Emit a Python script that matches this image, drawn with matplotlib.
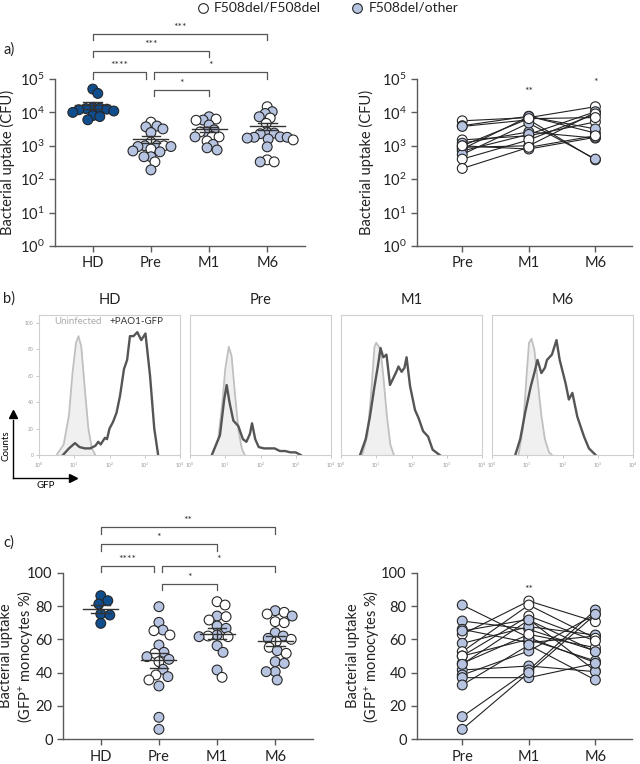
import numpy as np
import matplotlib
matplotlib.use("Agg")
import matplotlib.pyplot as plt
from matplotlib.lines import Line2D
from matplotlib.ticker import FixedLocator, NullLocator

plt.rcParams["font.family"] = ["Lato", "DejaVu Sans"]
plt.rcParams["mathtext.default"] = "regular"

HD_BLUE = "#0f4d8c"
LIGHT = "#b7c4e1"
EDGE = "#262626"
AXIS = "#5a5a5a"

GROUPS = ["HD", "Pre", "M1", "M6"]
TIMES = ["Pre", "M1", "M6"]

# a) bacterial uptake, CFU (open = F508del/F508del, else F508del/other)
cfu_hd = [50000, 37000, 14000, 13500, 13000, 12500, 12000, 11000, 10000, 8000, 7500, 6000]
cfu_pre = [5100, 3900, 3700, 3200, 2500, 1300, 1000, 1000, 1000, 950, 950, 800, 700, 660, 470, 470, 330, 190]
cfu_pre_open = [1, 0, 0, 0, 0, 1, 0, 0, 1, 0, 0, 1, 0, 0, 0, 0, 1, 0]
cfu_m1 = [7400, 6300, 5900, 5800, 4200, 3000, 2600, 2600, 1900, 1850, 1850, 1400, 1100, 870, 750]
cfu_m1_open = [0, 1, 0, 1, 0, 0, 0, 1, 1, 1, 0, 1, 0, 0, 0]
cfu_m6 = [14800, 10500, 9300, 7400, 6800, 4700, 2500, 2400, 2300, 1850, 1800, 1800, 1700, 1600,
          1500, 930, 380, 330, 330]
cfu_m6_open = [1, 0, 0, 0, 1, 1, 0, 0, 0, 0, 0, 0, 0, 0, 1, 0, 1, 1, 0]

# a) paired patients
pair_cfu_pre = [5600, 4000, 3800, 1500, 1200, 1000, 900, 800, 700, 550, 400, 210, 1000]
pair_cfu_m1 = [7000, 7700, 6000, 2000, 2600, 800, 1000, 7500, 2200, 4800, 1500, 900, 6500]
pair_cfu_m6 = [14800, 2400, 380, 5200, 1700, 1800, 10000, 3200, 10500, 400, 9000, 2000, 7000]
pair_cfu_open = [1, 0, 0, 1, 0, 0, 0, 0, 0, 0, 1, 1, 1]

# b) flow histograms: (log10 GFP, counts)
hist_uninf = {
    "HD": ([0.5, 0.7, 0.85, 0.95, 1.05, 1.12, 1.2, 1.3, 1.4, 1.5, 1.6],
           [0, 8, 30, 62, 85, 90, 82, 50, 20, 5, 0]),
    "Pre": ([0.62, 0.8, 0.92, 1.0, 1.1, 1.18, 1.28, 1.38, 1.47, 1.55],
            [0, 12, 40, 65, 82, 75, 45, 18, 5, 0]),
    "M1": ([0.6, 0.75, 0.85, 0.95, 1.0, 1.05, 1.12, 1.2, 1.3, 1.4, 1.5],
           [0, 15, 45, 82, 85, 83, 80, 60, 30, 8, 0]),
    "M6": ([0.75, 0.88, 0.98, 1.05, 1.12, 1.2, 1.3, 1.4, 1.5, 1.62, 1.7],
           [0, 20, 60, 85, 88, 80, 55, 30, 12, 2, 0]),
}
hist_inf = {
    "HD": ([0.68, 0.85, 1.02, 1.15, 1.3, 1.45, 1.6, 1.68, 1.75, 1.87, 1.93, 2.0, 2.1, 2.2, 2.3,
            2.41, 2.5, 2.58, 2.68, 2.79, 2.9, 3.02, 3.15, 3.27, 3.38],
           [0, 5, 9, 6, 5, 5, 7, 10, 8, 13, 12, 20, 25, 32, 45, 65, 72, 90, 90, 93, 87, 92, 60, 20, 0]),
    "Pre": ([0.62, 0.85, 0.97, 1.04, 1.12, 1.23, 1.37, 1.5, 1.6, 1.7, 1.76, 1.85, 1.95, 2.1, 2.25,
             2.4, 2.55, 2.7, 2.85, 3.0, 3.14],
            [0, 15, 42, 53, 40, 26, 22, 12, 10, 16, 24, 12, 6, 5, 5, 5, 3, 3, 2, 2, 0]),
    "M1": ([0.54, 0.7, 0.82, 0.95, 1.05, 1.12, 1.2, 1.29, 1.39, 1.48, 1.57, 1.63, 1.72, 1.8, 1.86,
            1.96, 2.1, 2.2, 2.33, 2.47, 2.6, 2.8],
           [0, 12, 29, 52, 68, 81, 74, 76, 53, 58, 63, 67, 63, 66, 74, 52, 34, 28, 18, 14, 4, 0]),
    "M6": ([0.66, 0.8, 0.94, 1.1, 1.2, 1.29, 1.4, 1.5, 1.56, 1.7, 1.83, 1.92, 2.09, 2.18, 2.28,
            2.42, 2.61, 2.75, 2.94],
           [0, 12, 32, 52, 62, 72, 62, 66, 72, 76, 87, 72, 54, 42, 47, 29, 14, 5, 0]),
}

# c) GFP+ monocytes, %
gfp_hd = [86.2, 83.2, 81.2, 75.2, 74.6, 69.6]
gfp_pre = [79.6, 70.2, 65.6, 65.2, 62.6, 56.6, 52.2, 51.6, 49.6, 48, 46.6, 42, 38.6, 37.6, 35.6,
           32, 13.2, 6]
gfp_pre_open = [0, 0, 0, 1, 1, 0, 0, 1, 0, 0, 1, 0, 1, 0, 1, 0, 0, 0]
gfp_m1 = [82.6, 80.6, 74, 73.6, 71.6, 68, 66.6, 62.6, 62, 61.6, 61.6, 56.2, 52.2, 41.6, 37.2]
gfp_m1_open = [1, 1, 0, 1, 1, 0, 0, 0, 1, 1, 0, 0, 0, 0, 1]
gfp_m6 = [77.2, 76.2, 75.2, 74, 70.6, 70, 64, 62, 60.6, 60, 58.6, 55.2, 53.2, 51.6, 46.6, 45.6,
          40.6, 40.6, 35.6]
gfp_m6_open = [0, 1, 1, 0, 1, 1, 0, 0, 0, 1, 1, 1, 0, 1, 0, 0, 0, 0, 0]

# c) paired patients
pair_gfp_pre = [80.6, 71, 66, 63, 65, 57.6, 52.6, 50, 45.6, 41.6, 38.6, 37, 32.6, 13.6, 6, 50, 45]
pair_gfp_m1 = [61, 66, 58, 83, 72, 67.6, 80.6, 60, 63, 44, 53, 37, 56.6, 41.6, 40, 74, 71.6]
pair_gfp_m6 = [46, 53, 62, 70.6, 41, 62.6, 60.6, 47, 55, 40.6, 75, 45.6, 35.6, 77.6, 75, 59, 52.6]
pair_gfp_open = [0, 0, 0, 1, 0, 0, 1, 0, 1, 0, 0, 0, 0, 0, 0, 1, 0]

# significance brackets: (start, end, height in axes fraction, label)
brackets = [(0, 3, 1.272, "***"), (0, 2, 1.17, "***"), (0, 0.92, 1.04, "****"),
            (1.05, 3, 1.04, "*"), (1.05, 2, 0.935, "*")]
brackets_c = [(0, 3, 1.272, "**"), (0, 2, 1.17, "*"), (0, 0.92, 1.04, "****"),
              (1.05, 3, 1.04, "*"), (1.05, 2, 0.935, "*")]

fig = plt.figure(figsize=(6.4, 7.64), dpi=100)
W, H = 640, 764


def add_ax(x0, y_top, x1, y_bot):
    return fig.add_axes([x0 / W, 1 - y_bot / H, (x1 - x0) / W, (y_bot - y_top) / H])


def style_scatter_ax(ax):
    for s in ("top", "right"):
        ax.spines[s].set_visible(False)
    for s in ("left", "bottom"):
        ax.spines[s].set_color(AXIS)
        ax.spines[s].set_linewidth(1.0)
    ax.tick_params(colors=AXIS, labelcolor="#222222", labelsize=10.5, length=4, width=1)


def swarm_x(ax, xc, vals, diam=6.5):
    disp = ax.transData.transform(np.column_stack([np.full(len(vals), xc), vals]))
    ys = disp[:, 1]
    placed = []
    out = np.zeros(len(vals))
    for i in np.argsort(-ys):
        dx_ok = None
        for k in range(80):
            for dx in ([0.0] if k == 0 else [k * 1.0, -k * 1.0]):
                if all((dx - px) ** 2 + (ys[i] - py) ** 2 >= diam ** 2 for px, py in placed):
                    dx_ok = dx
                    break
            if dx_ok is not None:
                break
        placed.append((dx_ok, ys[i]))
        out[i] = dx_ok
    ppu = ax.transData.transform([[1, 1]])[0, 0] - ax.transData.transform([[0, 1]])[0, 0]
    return xc + out / ppu


def dots(ax, xs, vals, open_flags=None, dark=False):
    vals = np.asarray(vals, float)
    if dark:
        colors = [HD_BLUE] * len(vals)
    else:
        colors = ["white" if o else LIGHT for o in open_flags]
    ax.scatter(xs, vals, s=50, c=colors, edgecolors=EDGE, linewidths=0.8, zorder=3, clip_on=False)


def mean_sem(ax, xc, vals):
    v = np.asarray(vals, float)
    m = v.mean()
    sem = v.std(ddof=1) / np.sqrt(len(v))
    kw = dict(color="#333333", lw=1.0, zorder=4)
    ax.plot([xc - 0.3, xc + 0.3], [m, m], **kw)
    ax.plot([xc - 0.16, xc + 0.16], [m + sem, m + sem], **kw)
    ax.plot([xc - 0.16, xc + 0.16], [m - sem, m - sem], **kw)
    ax.plot([xc, xc], [m - sem, m + sem], **kw)


def draw_brackets(ax, specs):
    tr = ax.get_xaxis_transform()
    for x0, x1, y, lab in specs:
        ax.plot([x0, x0, x1, x1], [y - 0.038, y, y, y - 0.038], color="#555555", lw=0.9,
                transform=tr, clip_on=False)
        ax.text((x0 + x1) / 2, y + 0.012, lab, transform=tr,
                ha="center", va="bottom", fontsize=7.5, color="#333333")


def log_axis(ax):
    ax.set_yscale("log")
    ax.set_ylim(1, 1e5)
    ax.yaxis.set_major_locator(FixedLocator(10.0 ** np.arange(6)))
    ax.yaxis.set_minor_locator(NullLocator())
    ax.set_yticklabels([f"$10^{{{k}}}$" for k in range(6)])


def ylabel(ax, text, right_px):
    ax.set_ylabel(text, fontsize=10.5, color="#222222", linespacing=1.1)
    x0 = ax.get_position().x0 * W
    wpx = ax.get_position().width * W
    ax.yaxis.set_label_coords((right_px - x0) / wpx, 0.5)


# ---------------- a) left
ax = add_ax(55, 79, 305, 246)
style_scatter_ax(ax)
log_axis(ax)
ax.set_xlim(-0.65, 3.65)
ax.set_xticks(range(4), labels=GROUPS)
ylabel(ax, "Bacterial uptake (CFU)", 15)
groups_a = [(cfu_hd, None, True), (cfu_pre, cfu_pre_open, False),
            (cfu_m1, cfu_m1_open, False), (cfu_m6, cfu_m6_open, False)]
for i, (vals, op, dark) in enumerate(groups_a):
    dots(ax, swarm_x(ax, i, vals), vals, op, dark)
    mean_sem(ax, i, vals)
draw_brackets(ax, brackets)

# ---------------- a) right
ax = add_ax(417, 79, 632, 246)
style_scatter_ax(ax)
log_axis(ax)
ax.set_xlim(-0.68, 2.55)
ax.set_xticks(range(3), labels=TIMES)
ylabel(ax, "Bacterial uptake (CFU)", 374)
for p in range(len(pair_cfu_pre)):
    ax.plot(range(3), [pair_cfu_pre[p], pair_cfu_m1[p], pair_cfu_m6[p]], color="#222222", lw=0.8, zorder=2)
for i, vals in enumerate([pair_cfu_pre, pair_cfu_m1, pair_cfu_m6]):
    dots(ax, np.full(len(vals), i), vals, pair_cfu_open)
ax.text(1, 3e4, "**", ha="center", va="bottom", fontsize=7.5, color="#333333")
ax.text(2, 5.6e4, "*", ha="center", va="bottom", fontsize=7.5, color="#333333")

# ---------------- b) flow histograms
for k, (g, x0) in enumerate(zip(GROUPS, [39, 190, 341, 492])):
    ax = add_ax(x0, 315, x0 + 141, 455)
    xu, yu = hist_uninf[g]
    xi, yi = hist_inf[g]
    xu = 10.0 ** np.asarray(xu)
    xi = 10.0 ** np.asarray(xi)
    ax.fill_between(xu, yu, color="#f0f0f0", lw=0)
    ax.plot(xu, yu, color="#c0c0c0", lw=1.3)
    ax.plot(xi, yi, color="#555555", lw=1.7)
    ax.set_xscale("log")
    ax.set_xlim(1, 1e4)
    ax.set_ylim(0, 106)
    for s in ax.spines.values():
        s.set_color("#cfcfcf")
        s.set_linewidth(0.8)
    ax.xaxis.set_major_locator(FixedLocator(10.0 ** np.arange(5)))
    ax.xaxis.set_minor_locator(NullLocator())
    ax.set_xticklabels([f"$10^{{{e}}}$" for e in range(5)])
    ax.tick_params(labelsize=3.6, colors="#b0b0b0", labelcolor="#999999", length=2, width=0.5, pad=2)
    if k == 0:
        ax.set_yticks(range(0, 101, 20))
        ax.text(0.275, 0.955, "Uninfected", transform=ax.transAxes, ha="center", va="center",
                fontsize=7, color="#aaaaaa")
        ax.text(0.69, 0.955, "+PAO1-GFP", transform=ax.transAxes, ha="center", va="center",
                fontsize=7, color="#333333")
    else:
        ax.set_yticks([])
    ax.set_title(g, fontsize=10.5, color="#222222", pad=8)

# axis arrows for b)
fig.add_artist(Line2D([13 / W, 13 / W], [1 - 478 / H, 1 - 420 / H], color="black", lw=1))
fig.add_artist(Line2D([13 / W, 70 / W], [1 - 477.5 / H, 1 - 477.5 / H], color="black", lw=1))
fig.add_artist(Line2D([13 / W], [1 - 414 / H], marker="^", ms=6, color="black", lw=0))
fig.add_artist(Line2D([73 / W], [1 - 477.5 / H], marker=">", ms=6, color="black", lw=0))
fig.text(6 / W, 1 - 446 / H, "Counts", rotation=90, ha="center", va="center", fontsize=7)
fig.text(46 / W, 1 - 486 / H, "GFP", ha="center", va="center", fontsize=7)

# ---------------- c) left
ax = add_ax(63, 572.7, 313, 739.3)
style_scatter_ax(ax)
ax.set_ylim(0, 100)
ax.set_yticks(range(0, 101, 20))
ax.set_xlim(-0.65, 3.65)
ax.set_xticks(range(4), labels=GROUPS)
ylabel(ax, "Bacterial uptake\n(GFP$^{+}$ monocytes %)", 35)
groups_c = [(gfp_hd, None, True), (gfp_pre, gfp_pre_open, False),
            (gfp_m1, gfp_m1_open, False), (gfp_m6, gfp_m6_open, False)]
for i, (vals, op, dark) in enumerate(groups_c):
    dots(ax, swarm_x(ax, i, vals, diam=8.5), vals, op, dark)
    mean_sem(ax, i, vals)
draw_brackets(ax, brackets_c)

# ---------------- c) right
ax = add_ax(417, 572.7, 632, 739.3)
style_scatter_ax(ax)
ax.set_ylim(0, 100)
ax.set_yticks(range(0, 101, 20))
ax.set_xlim(-0.68, 2.55)
ax.set_xticks(range(3), labels=TIMES)
ylabel(ax, "Bacterial uptake\n(GFP$^{+}$ monocytes %)", 381)
for p in range(len(pair_gfp_pre)):
    ax.plot(range(3), [pair_gfp_pre[p], pair_gfp_m1[p], pair_gfp_m6[p]], color="#222222", lw=0.8, zorder=2)
for i, vals in enumerate([pair_gfp_pre, pair_gfp_m1, pair_gfp_m6]):
    dots(ax, np.full(len(vals), i), vals, pair_gfp_open)
ax.text(1, 87, "**", ha="center", va="bottom", fontsize=7.5, color="#333333")

# panel letters and legend
fig.text(3 / W, 1 - 50 / H, "a)", fontsize=10.5, va="center", color="#222222")
fig.text(3 / W, 1 - 299 / H, "b)", fontsize=10.5, va="center", color="#222222")
fig.text(3 / W, 1 - 543 / H, "c)", fontsize=10.5, va="center", color="#222222")

fig.add_artist(Line2D([203 / W], [1 - 8 / H], marker="o", ms=7, mfc="white", mec=EDGE, mew=0.8, lw=0))
fig.text(214 / W, 1 - 8 / H, "F508del/F508del", fontsize=10, va="center", color="#222222")
fig.add_artist(Line2D([357 / W], [1 - 8 / H], marker="o", ms=7, mfc=LIGHT, mec=EDGE, mew=0.8, lw=0))
fig.text(369 / W, 1 - 8 / H, "F508del/other", fontsize=10, va="center", color="#222222")

fig.savefig("out.png", dpi=100)
